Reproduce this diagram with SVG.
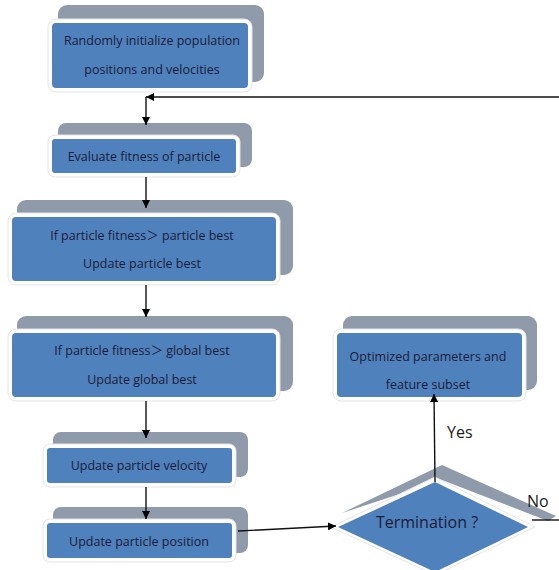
<svg xmlns="http://www.w3.org/2000/svg" width="559" height="570" viewBox="0 0 559 570">
<defs>
<style>
.sh{fill:#8f9aab;}
.fr{fill:#ffffff;stroke:#e4e4e4;stroke-width:1;}
.bl{fill:#4f81bd;}
.t{font-family:"Open Sans","Noto Sans CJK SC",sans-serif;font-size:12.5px;fill:#1c1c38;text-anchor:middle;}
.lb{font-family:"Open Sans",sans-serif;font-size:16px;fill:#1c1c1c;}
.ln{stroke:#111;stroke-width:1.4;fill:none;}
</style>
<marker id="ah" viewBox="0 0 10 10" refX="10" refY="5" markerWidth="8" markerHeight="8" orient="auto" markerUnits="userSpaceOnUse">
<path d="M0,0 L10,5 L0,10 z" fill="#000"/>
</marker>
</defs>
<g id="n1">
<rect class="sh" x="58" y="5" width="206" height="77" rx="9"/>
<rect class="fr" x="48" y="19" width="204" height="73" rx="8"/>
<rect class="bl" x="52" y="23" width="196" height="65" rx="4"/>
<text class="t" x="152" y="45">Randomly initialize population</text>
<text class="t" x="152" y="74">positions and velocities</text>
</g>
<g id="n2">
<rect class="sh" x="58" y="123" width="194" height="44" rx="8"/>
<rect class="fr" x="48" y="135" width="192" height="42" rx="7"/>
<rect class="bl" x="52" y="139" width="184" height="34" rx="3"/>
<text class="t" x="144" y="161">Evaluate fitness of particle</text>
</g>
<g id="n3">
<rect class="sh" x="17" y="200" width="276" height="75" rx="9"/>
<rect class="fr" x="8" y="213" width="272" height="72" rx="8"/>
<rect class="bl" x="12" y="217" width="264" height="64" rx="4"/>
<text class="t" x="142" y="240">If particle fitness＞ particle best</text>
<text class="t" x="142" y="268">Update particle best</text>
</g>
<g id="n4">
<rect class="sh" x="17" y="316" width="276" height="75" rx="9"/>
<rect class="fr" x="8" y="329" width="272" height="72" rx="8"/>
<rect class="bl" x="12" y="333" width="264" height="64" rx="4"/>
<text class="t" x="142" y="355">If particle fitness＞ global best</text>
<text class="t" x="142" y="384">Update global best</text>
</g>
<g id="n5">
<rect class="sh" x="53" y="432" width="195" height="45" rx="8"/>
<rect class="fr" x="43" y="444" width="193" height="43" rx="7"/>
<rect class="bl" x="47" y="448" width="185" height="35" rx="3"/>
<text class="t" x="139" y="470">Update particle velocity</text>
</g>
<g id="n6">
<rect class="sh" x="53" y="507" width="195" height="46" rx="8"/>
<rect class="fr" x="43" y="519" width="193" height="43" rx="7"/>
<rect class="bl" x="47" y="523" width="185" height="35" rx="3"/>
<text class="t" x="139" y="546">Update particle position</text>
</g>
<g id="n7">
<rect class="sh" x="343" y="316" width="194" height="74" rx="9"/>
<rect class="fr" x="333" y="329" width="193" height="72" rx="8"/>
<rect class="bl" x="337" y="333" width="185" height="64" rx="4"/>
<text class="t" x="428" y="361">Optimized parameters and</text>
<text class="t" x="428" y="389">feature subset</text>
</g>
<g id="n8">
<polygon class="sh" points="342,513 442,465 556,516 548,521 442,480"/>
<polygon class="fr" points="331,527 435,477 535,527 435,575"/>
<polygon class="bl" points="338,527 435,482 528,527 435,572"/>
<text class="t" x="427" y="528" style="font-size:16px">Termination ?</text>
</g>
<g id="connectors">
<path class="ln" d="M559,97 L146,97" marker-end="url(#ah)"/>
<path class="ln" d="M146,97 L146,125" marker-end="url(#ah)"/>
<path class="ln" d="M146,177 L146,208" marker-end="url(#ah)"/>
<path class="ln" d="M146,285 L146,317" marker-end="url(#ah)"/>
<path class="ln" d="M146,401 L146,438" marker-end="url(#ah)"/>
<path class="ln" d="M146,487 L146,519" marker-end="url(#ah)"/>
<path class="ln" d="M238,531 L336,526" marker-end="url(#ah)"/>
<path class="ln" d="M435,482 L434,394" marker-end="url(#ah)"/>
<path class="ln" d="M532,520 L559,520"/>
</g>
<g id="labels">
<text class="lb" x="447" y="438">Yes</text>
<text class="lb" x="527" y="507">No</text>
</g>
</svg>
